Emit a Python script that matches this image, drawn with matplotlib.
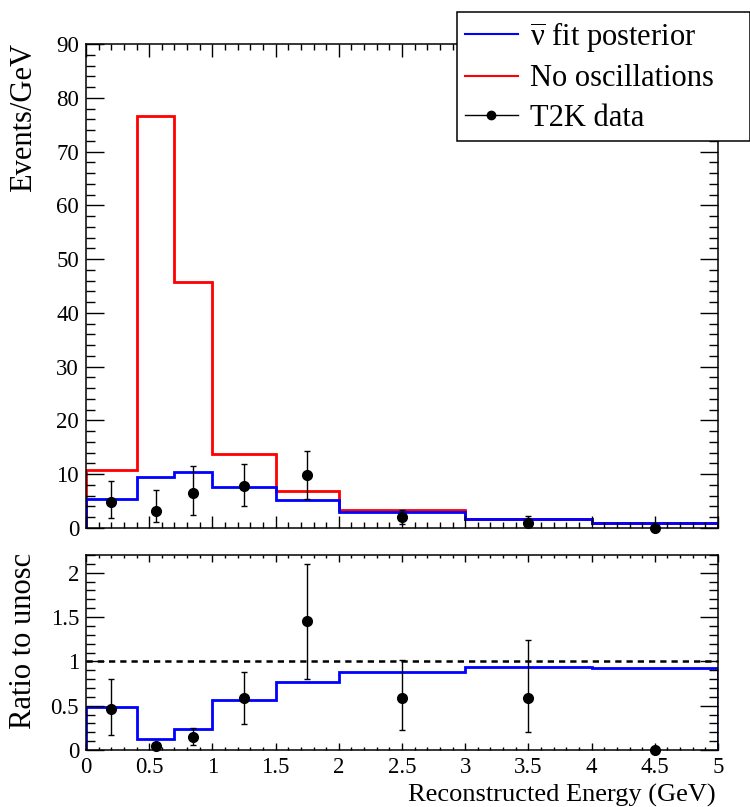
import matplotlib
matplotlib.use("Agg")
import matplotlib.pyplot as plt
from matplotlib.ticker import MultipleLocator
from matplotlib.lines import Line2D
import numpy as np

plt.rcParams['font.family'] = ['Liberation Serif', 'DejaVu Serif']
plt.rcParams['mathtext.fontset'] = 'stix'

# ---------------- data ----------------
bin_edges = [0.0, 0.4, 0.7, 1.0, 1.5, 2.0, 3.0, 4.0, 5.0]
no_osc = [10.8, 76.6, 45.7, 13.8, 6.9, 3.4, 1.7, 0.92]
fit_post = [5.35, 9.4, 10.5, 7.6, 5.25, 3.0, 1.6, 0.85]
ratio_fit = [0.49, 0.12, 0.235, 0.56, 0.77, 0.88, 0.935, 0.93]

data_x = [0.2, 0.55, 0.85, 1.25, 1.75, 2.5, 3.5, 4.5]
data_y = [4.9, 3.2, 6.6, 7.9, 9.9, 2.0, 1.0, 0.0]
data_lo = [1.8, 1.05, 2.4, 4.0, 5.4, 0.7, 0.35, 0.0]
data_hi = [8.7, 7.1, 11.6, 11.9, 14.4, 3.3, 2.3, 0.0]

ratio_y = [0.46, 0.045, 0.147, 0.585, 1.45, 0.585, 0.585, 0.0]
ratio_lo = [0.17, 0.045, 0.056, 0.29, 0.80, 0.23, 0.20, 0.0]
ratio_hi = [0.80, 0.045, 0.25, 0.875, 2.10, 1.02, 1.24, 0.0]

W, H = 750, 807
fig = plt.figure(figsize=(W / 100, H / 100), dpi=100)

def frac(x0, y0, x1, y1):
    return [x0 / W, 1 - y1 / H, (x1 - x0) / W, (y1 - y0) / H]

ax1 = fig.add_axes(frac(86, 44, 718, 528))
ax2 = fig.add_axes(frac(86, 555, 718, 750))

blue = (0, 0, 1)
red = (1, 0, 0)
lw_hist = 2.0

# top panel
ax1.stairs(no_osc, bin_edges, color=red, lw=lw_hist)
ax1.stairs(fit_post, bin_edges, color=blue, lw=lw_hist)
y = np.array(data_y)
yerr = [y - np.array(data_lo), np.array(data_hi) - y]
ax1.errorbar(data_x, data_y, yerr=yerr, fmt='o', color='black', ms=7,
             elinewidth=1.0, capsize=2.5, capthick=1.0, clip_on=False, zorder=5)
ax1.set_xlim(0, 5)
ax1.set_ylim(0, 90)

# bottom panel
ax2.stairs(ratio_fit, bin_edges, color=blue, lw=lw_hist)
ax2.axhline(1.0, color='black', lw=1.8, ls=(0, (2.5, 2.0)))
r = np.array(ratio_y)
rerr = [r - np.array(ratio_lo), np.array(ratio_hi) - r]
ax2.errorbar(data_x, ratio_y, yerr=rerr, fmt='o', color='black', ms=7,
             elinewidth=1.0, capsize=2.5, capthick=1.0, clip_on=False, zorder=5)
ax2.set_xlim(0, 5)
ax2.set_ylim(0, 2.2)

for ax in (ax1, ax2):
    for s in ax.spines.values():
        s.set_linewidth(1.1)
    ax.xaxis.set_major_locator(MultipleLocator(0.5))
    ax.xaxis.set_minor_locator(MultipleLocator(0.1))
    ax.tick_params(which='both', direction='in', top=True, right=True,
                   labelsize=16.5, width=1.0, pad=5)

ax1.yaxis.set_major_locator(MultipleLocator(10))
ax1.yaxis.set_minor_locator(MultipleLocator(2))
ax1.tick_params(axis='y', which='major', length=13)
ax1.tick_params(axis='y', which='minor', length=6.5)
ax1.tick_params(axis='x', which='major', length=9)
ax1.tick_params(axis='x', which='minor', length=4.5)
ax1.tick_params(axis='x', labelbottom=False)

ax2.yaxis.set_major_locator(MultipleLocator(0.5))
ax2.yaxis.set_minor_locator(MultipleLocator(0.1))
ax2.tick_params(axis='y', which='major', length=13)
ax2.tick_params(axis='y', which='minor', length=6.5)
ax2.tick_params(axis='x', which='major', length=5)
ax2.tick_params(axis='x', which='minor', length=2.5)

def fmt(v, pos):
    return ('%g' % v)
ax1.yaxis.set_major_formatter(plt.FuncFormatter(fmt))
ax2.yaxis.set_major_formatter(plt.FuncFormatter(fmt))
ax2.xaxis.set_major_formatter(plt.FuncFormatter(fmt))

# axis titles
fig.text(24 / W, 1 - 43 / H, 'Events/GeV', rotation=90, ha='center', va='top', fontsize=22)
fig.text(24 / W, 1 - 553 / H, 'Ratio to unosc', rotation=90, ha='center', va='top', fontsize=22)
fig.text(716 / W, 1 - 802 / H, 'Reconstructed Energy (GeV)', ha='right', va='baseline', fontsize=19)

# legend
handles = [Line2D([], [], color=blue, lw=1.5),
           Line2D([], [], color=red, lw=1.5),
           Line2D([], [], color='black', lw=1.0, marker='o', ms=6)]
labels = [r'$\overline{\mathregular{ν}}$ fit posterior', 'No oscillations', 'T2K data']
leg = fig.legend(handles, labels, loc='upper left',
                 bbox_to_anchor=(457 / W, 1 - 138 / H, 292.5 / W, 126 / H),
                 mode='expand', fontsize=22, frameon=True, fancybox=False,
                 edgecolor='black', framealpha=1, handlelength=1.75,
                 handletextpad=0.4, labelspacing=0.35, borderpad=0.25,
                 borderaxespad=0)
leg.get_frame().set_linewidth(1.1)

fig.savefig('out.png', dpi=100)
